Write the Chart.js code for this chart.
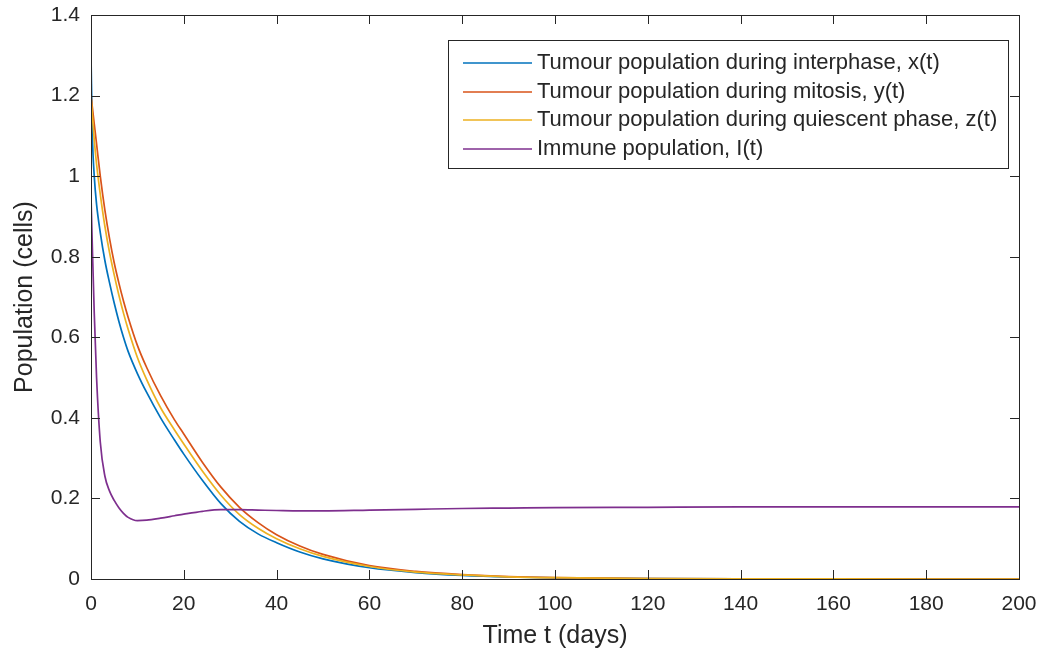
<!DOCTYPE html>
<html>
<head>
<meta charset="utf-8">
<script src="https://cdn.jsdelivr.net/npm/chart.js@4"></script>
<style>
  html, body { margin: 0; padding: 0; background: #ffffff; }
  #wrap { width: 1041px; height: 660px; position: relative; }
</style>
</head>
<body>
<div id="wrap"><canvas id="c" width="1041" height="660"></canvas></div>
<script>
// ---- Data ----
const tDays = [0, 0.3, 0.7, 1.2, 2, 3, 4, 5, 6, 7, 8, 10, 12, 15, 18, 20, 24, 28, 32, 36, 40, 45, 50, 60, 70, 80, 90, 100, 120, 140, 160, 180, 200];
const xInterphase = [1.30, 1.10, 1.00, 0.93, 0.86, 0.79, 0.735, 0.685, 0.64, 0.60, 0.565, 0.51, 0.463, 0.40, 0.345, 0.31, 0.245, 0.187, 0.143, 0.112, 0.09, 0.067, 0.05, 0.028, 0.016, 0.009, 0.005, 0.003, 0.001, 0.0003, 0.0001, 0, 0];
const yMitosis = [1.20, 1.17, 1.13, 1.08, 1.00, 0.915, 0.845, 0.785, 0.735, 0.69, 0.65, 0.58, 0.525, 0.455, 0.395, 0.36, 0.29, 0.228, 0.178, 0.14, 0.11, 0.082, 0.061, 0.033, 0.019, 0.011, 0.006, 0.0035, 0.0012, 0.0004, 0.0001, 0, 0];
const zQuiescent = [1.20, 1.15, 1.09, 1.03, 0.955, 0.875, 0.81, 0.755, 0.705, 0.66, 0.62, 0.55, 0.495, 0.425, 0.37, 0.335, 0.268, 0.208, 0.16, 0.126, 0.10, 0.075, 0.056, 0.031, 0.017, 0.01, 0.0055, 0.0033, 0.0012, 0.0004, 0.0001, 0, 0];
const immuneI = [0.95, 0.82, 0.66, 0.50, 0.34, 0.255, 0.218, 0.195, 0.177, 0.163, 0.153, 0.145, 0.146, 0.151, 0.157, 0.161, 0.168, 0.172, 0.172, 0.171, 0.170, 0.169, 0.169, 0.171, 0.173, 0.175, 0.176, 0.177, 0.178, 0.179, 0.179, 0.179, 0.179];

const seriesLabels = [
  'Tumour population during interphase, x(t)',
  'Tumour population during mitosis, y(t)',
  'Tumour population during quiescent phase, z(t)',
  'Immune population, I(t)'
];
const xTickValues = [0, 20, 40, 60, 80, 100, 120, 140, 160, 180, 200];
const yTickValues = [0, 0.2, 0.4, 0.6, 0.8, 1, 1.2, 1.4];
const xTitle = 'Time t (days)';
const yTitle = 'Population (cells)';

const colors = ['#0072BD', '#D95319', '#EDB120', '#7E2F8E'];
const seriesValues = [xInterphase, yMitosis, zQuiescent, immuneI];

const FONT = "'Liberation Sans', Arial, Helvetica, sans-serif";
const AX = '#262626';

const toPoints = arr => arr.map((v, i) => ({ x: tDays[i], y: v }));

const datasets = seriesValues.map((vals, i) => ({
  label: seriesLabels[i],
  data: toPoints(vals),
  borderColor: colors[i],
  backgroundColor: colors[i],
  borderWidth: 1.7,
  pointRadius: 0,
  fill: false,
  cubicInterpolationMode: 'monotone',
  order: 4 - i
}));

const frame = {
  id: 'frame',
  afterDatasetsDraw(chart) {
    const { ctx, chartArea: a, scales } = chart;
    ctx.save();
    ctx.strokeStyle = AX;
    ctx.lineWidth = 1;
    const tl = 9;
    scales.x.ticks.forEach(t => {
      const px = Math.round(scales.x.getPixelForValue(t.value)) + 0.5;
      ctx.beginPath();
      ctx.moveTo(px, a.bottom); ctx.lineTo(px, a.bottom - tl);
      ctx.moveTo(px, a.top); ctx.lineTo(px, a.top + tl);
      ctx.stroke();
    });
    scales.y.ticks.forEach(t => {
      const py = Math.round(scales.y.getPixelForValue(t.value)) + 0.5;
      ctx.beginPath();
      ctx.moveTo(a.left, py); ctx.lineTo(a.left + tl, py);
      ctx.moveTo(a.right, py); ctx.lineTo(a.right - tl, py);
      ctx.stroke();
    });
    ctx.strokeRect(Math.round(a.left) + 0.5, Math.round(a.top) + 0.5,
                   Math.round(a.right - a.left), Math.round(a.bottom - a.top));
    ctx.restore();
  },
  afterDraw(chart) {
    const { ctx } = chart;
    // legend box (MATLAB-style, inside the axes)
    const L = 448, T = 40, R = 1008, B = 168;
    ctx.save();
    ctx.fillStyle = '#ffffff';
    ctx.fillRect(L, T, R - L, B - T);
    ctx.strokeStyle = AX;
    ctx.lineWidth = 1;
    ctx.strokeRect(L + 0.5, T + 0.5, R - L, B - T);
    const rows = [63, 92, 120, 149];
    ctx.font = '22px ' + FONT;
    ctx.textBaseline = 'middle';
    ctx.textAlign = 'left';
    chart.data.datasets.forEach((ds, i) => {
      const y = rows[i];
      ctx.strokeStyle = ds.borderColor;
      ctx.lineWidth = 1.7;
      ctx.beginPath();
      ctx.moveTo(463, y); ctx.lineTo(532, y);
      ctx.stroke();
      ctx.fillStyle = AX;
      ctx.fillText(ds.label, 537, y);
    });
    ctx.restore();
  }
};

const bgPlugin = {
  id: 'bg',
  beforeDraw(chart) {
    const { ctx } = chart;
    ctx.save();
    ctx.fillStyle = '#ffffff';
    ctx.fillRect(0, 0, chart.width, chart.height);
    ctx.restore();
  }
};

new Chart(document.getElementById('c'), {
  type: 'line',
  data: { datasets },
  options: {
    responsive: false,
    animation: false,
    devicePixelRatio: 1,
    layout: { padding: { left: 0, top: 15, right: 22, bottom: 0 } },
    plugins: { legend: { display: false }, tooltip: { enabled: false } },
    scales: {
      x: {
        type: 'linear',
        min: 0, max: 200,
        afterBuildTicks: s => { s.ticks = xTickValues.map(v => ({ value: v })); },
        afterFit: s => { s.height = 81; s.paddingLeft = 0; s.paddingRight = 0; },
        grid: { display: false, drawTicks: false },
        border: { display: false },
        ticks: { color: AX, font: { family: FONT, size: 21 }, padding: 13, maxRotation: 0 },
        title: { display: true, text: xTitle, color: AX, font: { family: FONT, size: 25 }, padding: { top: 0, bottom: 9 } }
      },
      y: {
        type: 'linear',
        min: 0, max: 1.4,
        afterBuildTicks: s => { s.ticks = yTickValues.map(v => ({ value: v })); },
        afterFit: s => { s.width = 91; s.paddingTop = 0; s.paddingBottom = 0; },
        grid: { display: false, drawTicks: false },
        border: { display: false },
        ticks: {
          color: AX, font: { family: FONT, size: 21 }, padding: 11,
          callback: v => String(Math.round(v * 10) / 10)
        },
        title: { display: true, text: yTitle, color: AX, font: { family: FONT, size: 25 }, padding: { top: 10, bottom: 0 } }
      }
    }
  },
  plugins: [bgPlugin, frame]
});
</script>
</body>
</html>
